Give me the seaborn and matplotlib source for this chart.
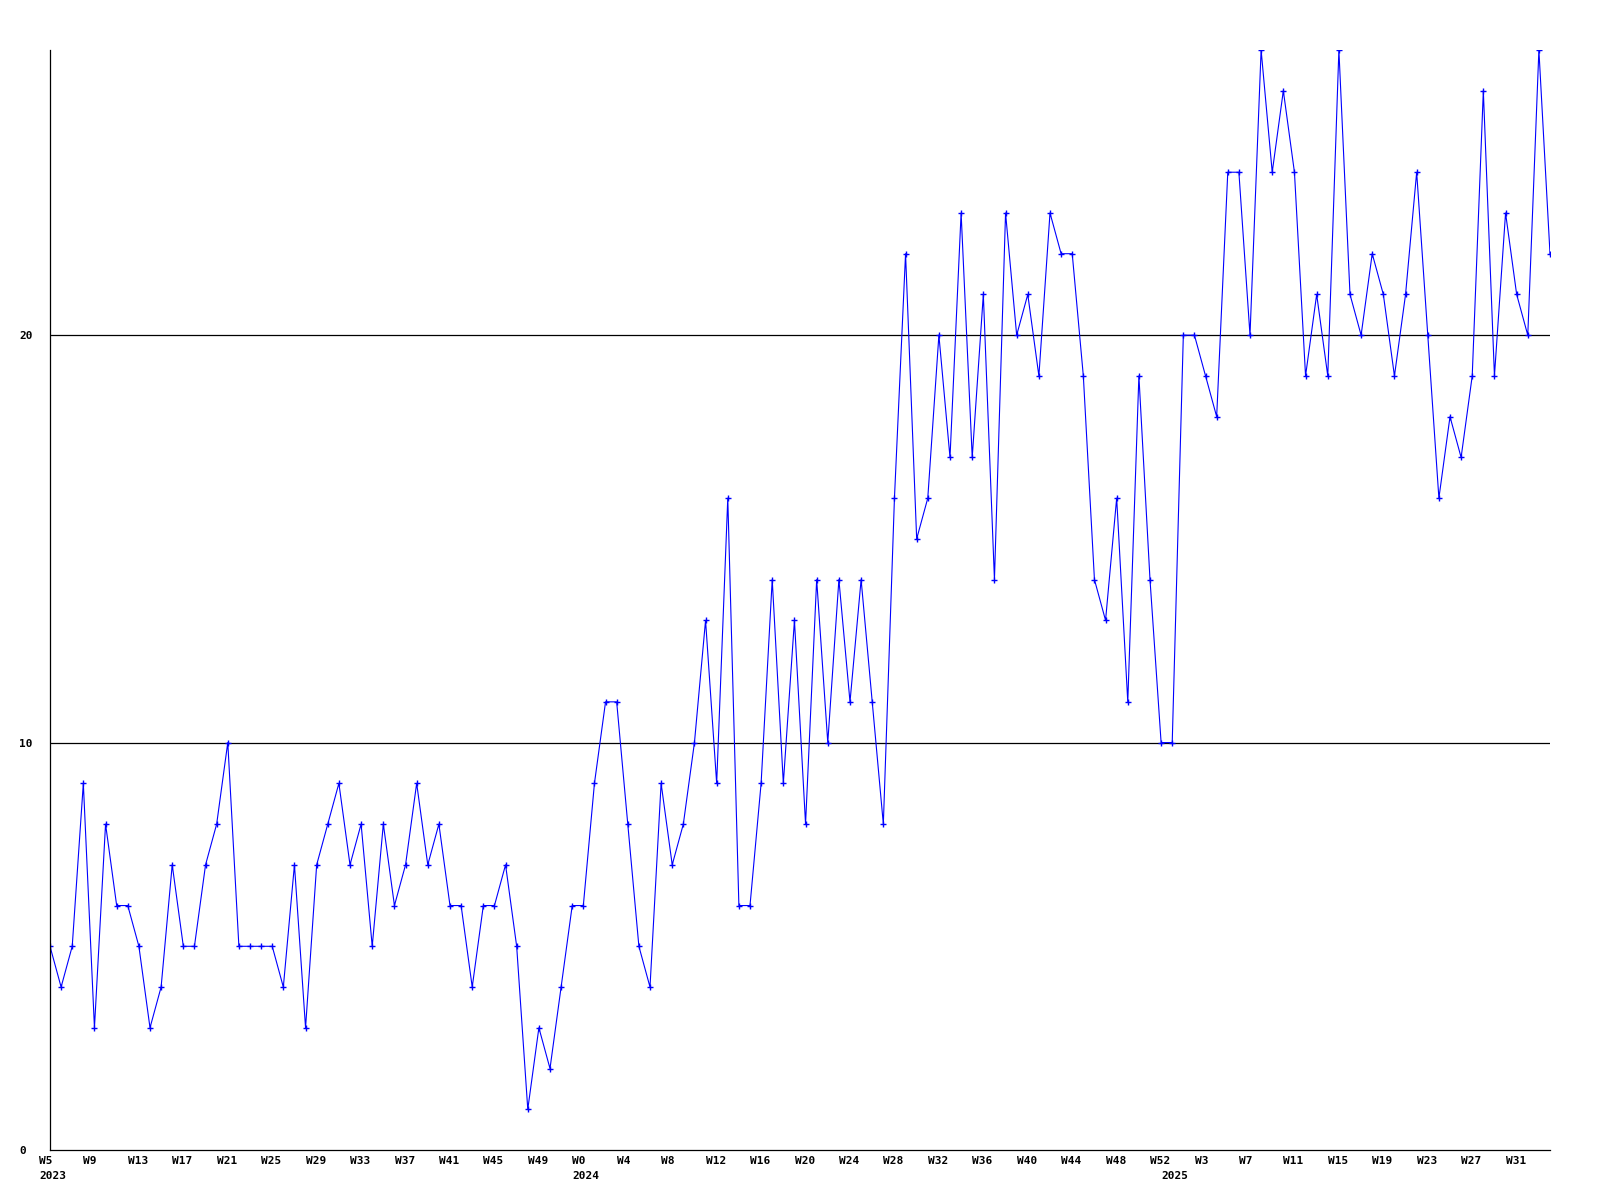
import matplotlib
matplotlib.use("Agg")
import matplotlib.pyplot as plt
import matplotlib.transforms as mtransforms
import pandas as pd
import seaborn as sns

# Weekly counts
weeks_2023 = list(range(5, 53))
counts_2023 = [5, 4, 5, 9, 3, 8, 6, 6, 5, 3,
               4, 7, 5, 5, 7, 8, 10, 5, 5, 5,
               5, 4, 7, 3, 7, 8, 9, 7, 8, 5,
               8, 6, 7, 9, 7, 8, 6, 6, 4, 6,
               6, 7, 5, 1, 3, 2, 4, 6]

weeks_2024 = list(range(0, 53))
counts_2024 = [6, 9, 11, 11, 8, 5, 4, 9, 7, 8,
               10, 13, 9, 16, 6, 6, 9, 14, 9, 13,
               8, 14, 10, 14, 11, 14, 11, 8, 16, 22,
               15, 16, 20, 17, 23, 17, 21, 14, 23, 20,
               21, 19, 23, 22, 22, 19, 14, 13, 16, 11,
               19, 14, 10]

weeks_2025 = list(range(0, 35))
counts_2025 = [10, 20, 20, 19, 18, 24, 24, 20, 27, 24,
               26, 24, 19, 21, 19, 27, 21, 20, 22, 21,
               19, 21, 24, 20, 16, 18, 17, 19, 26, 19,
               23, 21, 20, 27, 22]

y_ticks = [0, 10, 20]

# Build one long table
rows = []
for year, weeks, counts in [(2023, weeks_2023, counts_2023),
                            (2024, weeks_2024, counts_2024),
                            (2025, weeks_2025, counts_2025)]:
    for w, c in zip(weeks, counts):
        rows.append({'year': year, 'week': w, 'count': c})
df = pd.DataFrame(rows)
df['pos'] = range(len(df))

sns.set_theme(style="white")
plt.rcParams['font.family'] = ['DejaVu Sans Mono']
plt.rcParams['font.weight'] = 'bold'
plt.rcParams['text.color'] = 'black'
plt.rcParams['xtick.color'] = 'black'
plt.rcParams['ytick.color'] = 'black'

fig = plt.figure(figsize=(16, 12), dpi=100)
ax = fig.add_axes([50 / 1600, 50 / 1200, 1500 / 1600, 1100 / 1200])

sns.lineplot(data=df, x='pos', y='count', ax=ax, color='#0000ff', linewidth=0.8,
             marker='+', markersize=4, markeredgewidth=1.0,
             markeredgecolor='#0000ff', legend=False)

ax.set_xlim(0, len(df) - 1)
ax.set_ylim(0, 27)

# horizontal reference lines only
ax.set_yticks(y_ticks)
ax.set_yticklabels([str(t) for t in y_ticks])
ax.grid(False)
for t in y_ticks[1:]:
    ax.axhline(t, color='black', linewidth=0.9, zorder=0)

# week ticks every 4 points
tick_pos = df['pos'][::4].tolist()
tick_lab = ['W%d' % w for w in df['week'][::4]]
ax.set_xticks(tick_pos)
ax.set_xticklabels(tick_lab)
ax.tick_params(axis='x', length=0, pad=4, labelsize=8, labelcolor='black')
ax.tick_params(axis='y', length=0, pad=22, labelsize=8, labelcolor='black')

offset = mtransforms.ScaledTranslation(-11 / 100, 0, fig.dpi_scale_trans)
for lbl in ax.get_xticklabels():
    lbl.set_horizontalalignment('left')
    lbl.set_transform(lbl.get_transform() + offset)
    lbl.set_fontweight('bold')
for lbl in ax.get_yticklabels():
    lbl.set_horizontalalignment('left')
    lbl.set_fontweight('bold')

# year labels at the first week of each year
for year in df['year'].unique():
    first = df.loc[df['year'] == year, 'pos'].iloc[0]
    ax.annotate(str(year), xy=(first, 0), xycoords=('data', 'axes fraction'),
                xytext=(-11, -21), textcoords='offset pixels',
                ha='left', va='top', fontsize=8, fontweight='bold', color='black')

ax.set_xlabel('')
ax.set_ylabel('')
for side in ['top', 'right']:
    ax.spines[side].set_visible(False)
for side in ['left', 'bottom']:
    ax.spines[side].set_color('black')
    ax.spines[side].set_linewidth(0.9)

fig.savefig('out.png', dpi=100, facecolor='white')
